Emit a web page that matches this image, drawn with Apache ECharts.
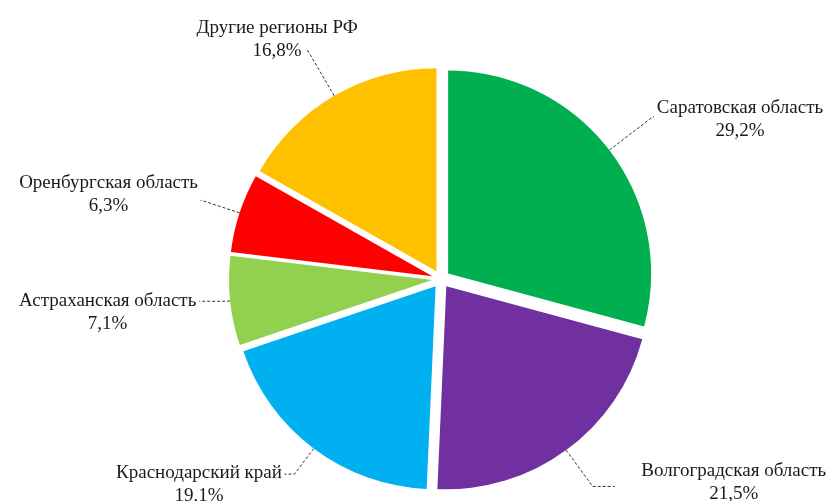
<!DOCTYPE html>
<html><head><meta charset="utf-8">
<script src="https://cdn.jsdelivr.net/npm/echarts@6/dist/echarts.min.js"></script>
<style>html,body{margin:0;padding:0;background:#fff}#c{width:828px;height:501px}</style>
</head><body><div id="c"></div>
<script>
// ---- data ----
const regions = ['Саратовская область', 'Волгоградская область', 'Краснодарский край', 'Астраханская область', 'Оренбургская область', 'Другие регионы РФ'];
const shares = [29.2, 21.5, 19.1, 7.1, 6.3, 16.8];

// ---- styles ----
const colors = ['#00B050', '#7030A0', '#00B0F0', '#92D050', '#FF0000', '#FFC000'];
const lineLen = [55, 45, 32, 3, 40, 52];
const lineLen2 = [1, 22, 10, 28, 1, 3];
const pads = [[5,0,0,0], [0,0,7,24], [21,0,0,0], [23,0,0,0], [0,0,12,0], [0,0,23,0]];
const FONT = '"Liberation Serif", "Times New Roman", serif';
const FS = 19, LH = 23;

const ctx = document.createElement('canvas').getContext('2d');
ctx.font = FS + 'px ' + FONT;
function textW(s) { return Math.ceil(ctx.measureText(s).width) + 1; }

const data = regions.map((name, i) => ({
  name: name,
  value: shares[i],
  selected: true,
  itemStyle: { color: colors[i] },
  label: {
    padding: pads[i],
    width: i === 5 ? 52 : textW(name),
    overflow: 'none'
  },
  labelLine: { length: lineLen[i], length2: lineLen2[i] }
}));

const chart = echarts.init(document.getElementById('c'), null, { renderer: 'canvas' });
chart.setOption({
  animation: false,
  backgroundColor: '#fff',
  series: [{
    type: 'pie',
    center: [441, 279],
    radius: 203,
    startAngle: 90,
    clockwise: true,
    selectedMode: 'multiple',
    selectedOffset: 9,
    avoidLabelOverlap: false,
    emphasis: { disabled: true },
    itemStyle: { borderWidth: 0 },
    label: {
      show: true,
      position: 'outside',
      alignTo: 'none',
      distanceToLabelLine: 2,
      color: '#1a1a1a',
      fontFamily: FONT,
      fontSize: FS,
      lineHeight: LH,
      formatter: p => '{n|' + p.name + '}\n{p|' + String(p.value).replace('.', ',') + '%}',
      rich: {
        n: { align: 'center', fontFamily: FONT, fontSize: FS, lineHeight: LH, color: '#1a1a1a' },
        p: { align: 'center', fontFamily: FONT, fontSize: FS, lineHeight: LH, color: '#1a1a1a' }
      }
    },
    labelLine: {
      show: true,
      smooth: false,
      lineStyle: { color: '#333', width: 1, type: [3, 2] }
    },
    data: data
  }]
});
</script>
</body></html>
